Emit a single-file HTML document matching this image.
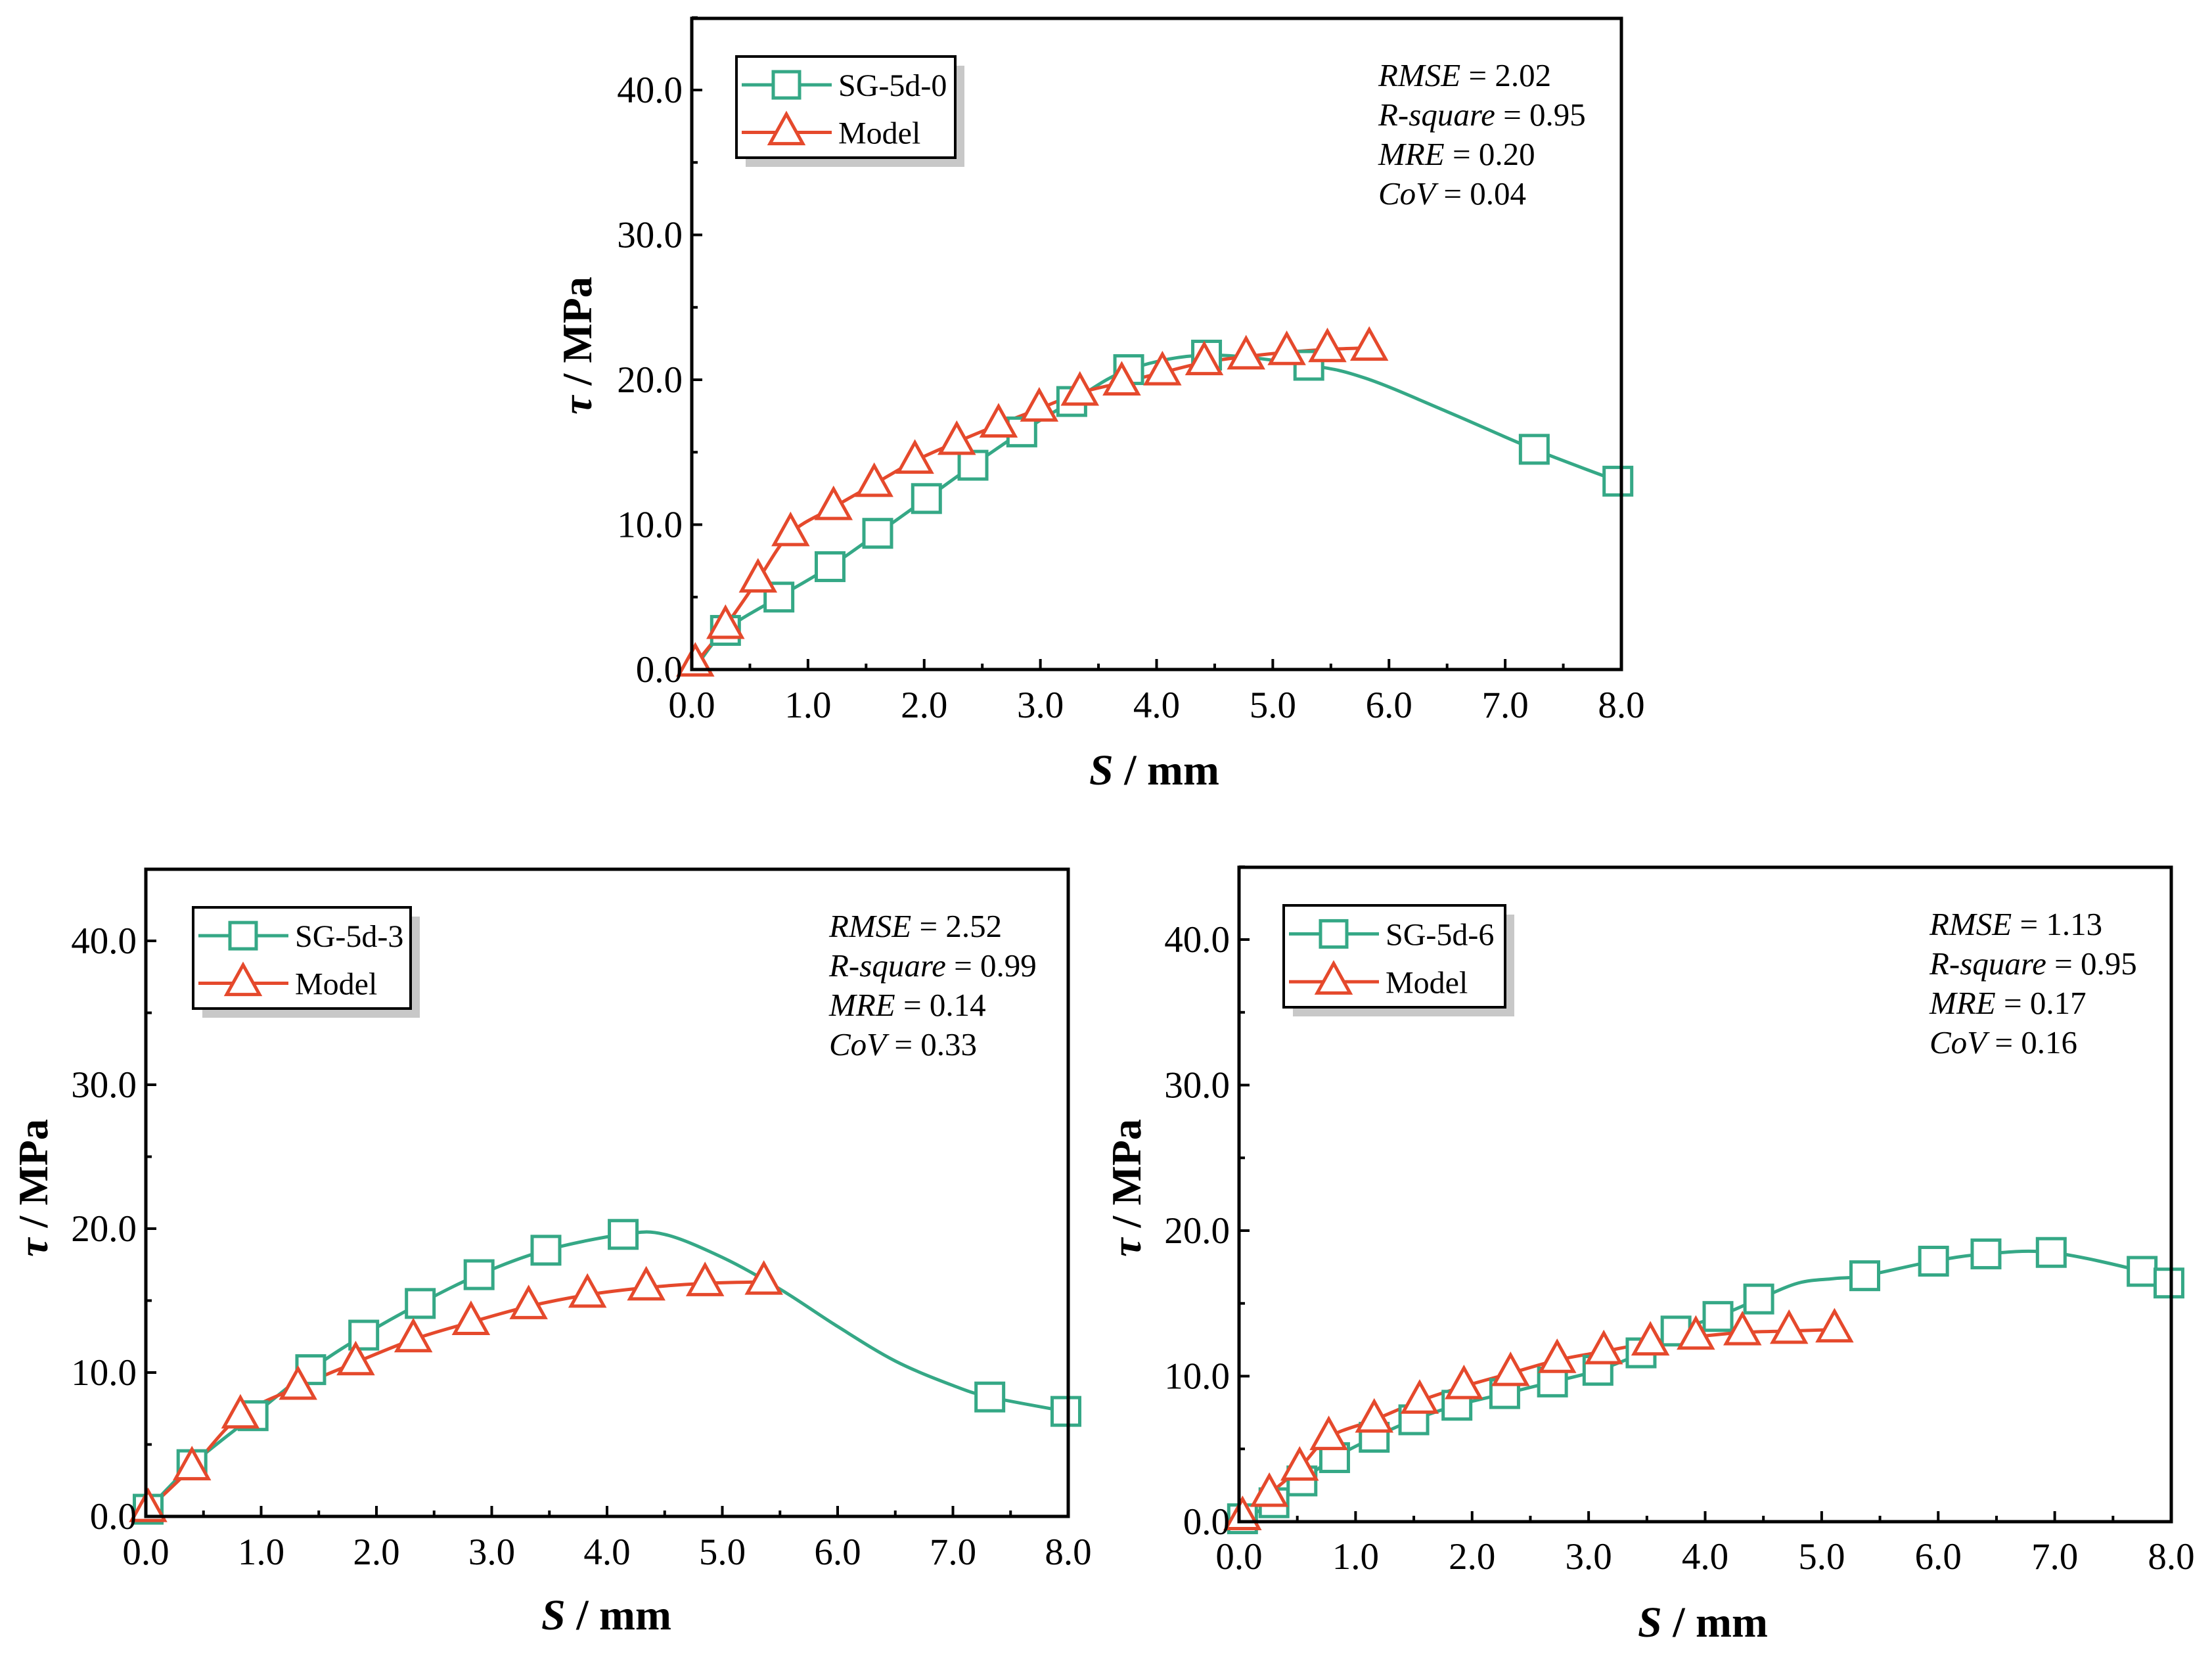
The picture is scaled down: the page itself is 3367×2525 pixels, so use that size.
<!DOCTYPE html>
<html><head><meta charset="utf-8">
<style>
html,body{margin:0;padding:0;background:#fff;}
svg{display:block;font-family:"Liberation Serif",serif;}
</style></head>
<body>
<svg id="fig" width="3367" height="2525" viewBox="0 0 3367 2525" xmlns="http://www.w3.org/2000/svg"></svg>
<script>
// ---- data: top chart SG-5d-0 ----
const a_expX = [0.29,0.75,1.19,1.6,2.02,2.42,2.84,3.27,3.76,4.43,5.31,7.25,7.97];
const a_expY = [2.7,5.0,7.1,9.4,11.8,14.1,16.4,18.5,20.7,21.7,21.0,15.2,13.0];
const a_curveX = [0.02,5.8,6.5];
const a_curveY = [0.0,20.1,17.8];
const a_modX = [0.03,0.29,0.57,0.85,1.22,1.57,1.92,2.28,2.64,2.99,3.34,3.7,4.05,4.41,4.77,5.12,5.47,5.83];
const a_modY = [0.4,3.0,6.2,9.4,11.2,12.8,14.4,15.7,16.9,18.0,19.1,19.8,20.5,21.2,21.6,21.9,22.1,22.2];
// ---- data: bottom-left SG-5d-3 ----
const b_expX = [0.02,0.4,0.93,1.43,1.89,2.38,2.89,3.47,4.14,7.32,7.98];
const b_expY = [0.5,3.6,7.0,10.2,12.6,14.8,16.8,18.5,19.6,8.3,7.3];
const b_curveX = [4.5,5.0,5.5,6.0,6.5,7.0];
const b_curveY = [19.6,18.0,15.8,13.2,10.8,9.1];
const b_modX = [0.02,0.4,0.82,1.32,1.82,2.32,2.82,3.32,3.83,4.34,4.85,5.36];
const b_modY = [0.5,3.4,7.0,9.0,10.7,12.3,13.5,14.6,15.4,15.9,16.2,16.3];
// ---- data: bottom-right SG-5d-6 ----
const c_expX = [0.03,0.3,0.54,0.82,1.16,1.5,1.87,2.28,2.69,3.08,3.45,3.75,4.11,4.46,5.37,5.96,6.41,6.97,7.75,7.98];
const c_expY = [0.2,1.3,2.8,4.4,5.8,7.0,8.0,8.8,9.6,10.4,11.6,13.1,14.1,15.3,16.9,17.9,18.4,18.5,17.2,16.4];
const c_curveX = [4.8,5.1];
const c_curveY = [16.4,16.7];
const c_modX = [0.03,0.26,0.52,0.77,1.16,1.55,1.93,2.33,2.73,3.13,3.53,3.92,4.32,4.72,5.11];
const c_modY = [0.3,1.9,3.7,5.8,7.0,8.3,9.3,10.2,11.1,11.7,12.3,12.7,13.0,13.1,13.2];
// ---- axes ticks ----
const xTicks = [0,1,2,3,4,5,6,7,8];
const xTickLabels = ["0.0","1.0","2.0","3.0","4.0","5.0","6.0","7.0","8.0"];
const yTicks = [0,10,20,30,40];
const yTickLabels = ["0.0","10.0","20.0","30.0","40.0"];

const NS="http://www.w3.org/2000/svg";
const svg=document.getElementById('fig');
const GREEN="#35a886", RED="#e5492c";
function mk(tag,attrs,parent){const e=document.createElementNS(NS,tag);for(const k in attrs)e.setAttribute(k,attrs[k]);(parent||svg).appendChild(e);return e;}
function spline(pts){
  let d="M"+pts[0][0]+","+pts[0][1];
  for(let i=0;i<pts.length-1;i++){
    const p0=pts[Math.max(0,i-1)],p1=pts[i],p2=pts[i+1],p3=pts[Math.min(pts.length-1,i+2)];
    const c1x=p1[0]+(p2[0]-p0[0])/6,c1y=p1[1]+(p2[1]-p0[1])/6;
    const c2x=p2[0]-(p3[0]-p1[0])/6,c2y=p2[1]-(p3[1]-p1[1])/6;
    d+=" C"+c1x+","+c1y+" "+c2x+","+c2y+" "+p2[0]+","+p2[1];
  }
  return d;
}
function square(g,x,y,s){const e=mk('rect',{x:x-s/2,y:y-s/2,width:s,height:s,fill:'#fff',stroke:GREEN,'stroke-width':5},g);return e;}
function tri(g,x,y,s){const h=s*0.9;const e=mk('polygon',{points:`${x},${y-h*0.62} ${x-s/2},${y+h*0.38} ${x+s/2},${y+h*0.38}`,fill:'#fff',stroke:RED,'stroke-width':5},g);return e;}

function chart(o){
  const g=mk('g',{});
  
  
  const sx=v=>o.x0+(o.x1-o.x0)*v/8;
  const sy=v=>o.y0-(o.y0-o.y40)*v/40;
  const expPts=o.ex.map((v,i)=>[v,o.ey[i]]).concat(o.cx.map((v,i)=>[v,o.cy[i]])).sort((a,b)=>a[0]-b[0]).map(p=>[sx(p[0]),sy(p[1])]);
  const el=mk('path',{d:spline(expPts),fill:'none',stroke:GREEN,'stroke-width':5},g);
  
  
  const mPts=o.mx.map((v,i)=>[sx(v),sy(o.my[i])]);
  const ml=mk('path',{d:spline(mPts),fill:'none',stroke:RED,'stroke-width':5},g);
  
  
  o.ex.forEach((v,i)=>{const m=square(g,sx(v),sy(o.ey[i]),42);
    
    });
  o.mx.forEach((v,i)=>{const m=tri(g,sx(v),sy(o.my[i]),50);
    
    });
  const fr=mk('rect',{x:o.x0,y:o.top,width:o.x1-o.x0,height:o.y0-o.top,fill:'none',stroke:'#000','stroke-width':5},g);
  
  
  xTicks.forEach((t,i)=>{
    const x=sx(t);
    mk('line',{x1:x,y1:o.y0,x2:x,y2:o.y0-16,stroke:'#000','stroke-width':4},g);
    if(i<xTicks.length-1){const xm=sx(t+0.5);mk('line',{x1:xm,y1:o.y0,x2:xm,y2:o.y0-9,stroke:'#000','stroke-width':4},g);}
    const tl=mk('text',{x:x,y:o.xlabY,'font-size':57,'text-anchor':'middle'},g);tl.textContent=xTickLabels[i];
    
    
  });
  yTicks.forEach((t,i)=>{
    const y=sy(t);
    mk('line',{x1:o.x0,y1:y,x2:o.x0+16,y2:y,stroke:'#000','stroke-width':4},g);
    const ym=sy(t+5);mk('line',{x1:o.x0,y1:ym,x2:o.x0+9,y2:ym,stroke:'#000','stroke-width':4},g);
    const tl=mk('text',{x:o.x0-14,y:y+19,'font-size':57,'text-anchor':'end'},g);tl.textContent=yTickLabels[i];
    
    
  });
  const xt=mk('text',{x:o.xtX,y:o.xtY,'font-size':66,'font-weight':'bold','text-anchor':'middle'},g);
  xt.innerHTML='<tspan font-style="italic">S</tspan> / mm';
  
  
  const yt=mk('text',{x:0,y:0,'font-size':64,'font-weight':'bold','text-anchor':'middle',transform:`translate(${o.ytX},${o.ytY}) rotate(-90)`},g);
  yt.innerHTML='<tspan font-style="italic">τ</tspan> / MPa';
  
  
  const L=o.leg;
  const lg=mk('g',{},g);
  
  
  mk('rect',{x:L[0]+14,y:L[1]+14,width:L[2]-L[0],height:L[3]-L[1],fill:'#c8c8c8'},lg);
  mk('rect',{x:L[0],y:L[1],width:L[2]-L[0],height:L[3]-L[1],fill:'#fff',stroke:'#000','stroke-width':4},lg);
  const r1=L[1]+(L[3]-L[1])*0.28, r2=L[1]+(L[3]-L[1])*0.75;
  mk('line',{x1:L[0]+8,y1:r1,x2:L[0]+145,y2:r1,stroke:GREEN,'stroke-width':5},lg);
  square(lg,L[0]+76,r1,40);
  mk('line',{x1:L[0]+8,y1:r2,x2:L[0]+145,y2:r2,stroke:RED,'stroke-width':5},lg);
  tri(lg,L[0]+76,r2,50);
  const t1=mk('text',{x:L[0]+155,y:r1+17,'font-size':48},lg);t1.textContent=o.label;
  
  
  const t2=mk('text',{x:L[0]+155,y:r2+17,'font-size':48},lg);t2.textContent='Model';
  
  
  const names=['RMSE','R-square','MRE','CoV'];
  names.forEach((n,i)=>{
    const st=mk('text',{x:o.stX,y:o.stY+i*60,'font-size':49},g);
    st.innerHTML='<tspan font-style="italic">'+n+'</tspan> = '+o.stats[i];
    
    
  });
}

chart({name:'chart-sg-5d-0',label:'SG-5d-0',x0:1053,x1:2468,top:28,y0:1019,y40:137,
  ex:a_expX,ey:a_expY,cx:a_curveX,cy:a_curveY,mx:a_modX,my:a_modY,
  xlabY:1092,xtX:1757,xtY:1194,ytX:900,ytY:526,leg:[1121,86,1454,240],
  stX:2098,stY:131,stats:['2.02','0.95','0.20','0.04']});
chart({name:'chart-sg-5d-3',label:'SG-5d-3',x0:222,x1:1626,top:1323,y0:2308,y40:1432,
  ex:b_expX,ey:b_expY,cx:b_curveX,cy:b_curveY,mx:b_modX,my:b_modY,
  xlabY:2381,xtX:923,xtY:2480,ytX:72,ytY:1808,leg:[294,1381,625,1535],
  stX:1262,stY:1426,stats:['2.52','0.99','0.14','0.33']});
chart({name:'chart-sg-5d-6',label:'SG-5d-6',x0:1886,x1:3305,top:1320,y0:2316,y40:1430,
  ex:c_expX,ey:c_expY,cx:c_curveX,cy:c_curveY,mx:c_modX,my:c_modY,
  xlabY:2388,xtX:2592,xtY:2491,ytX:1736,ytY:1808,leg:[1954,1378,2291,1533],
  stX:2937,stY:1423,stats:['1.13','0.95','0.17','0.16']});
</script>
</body></html>
